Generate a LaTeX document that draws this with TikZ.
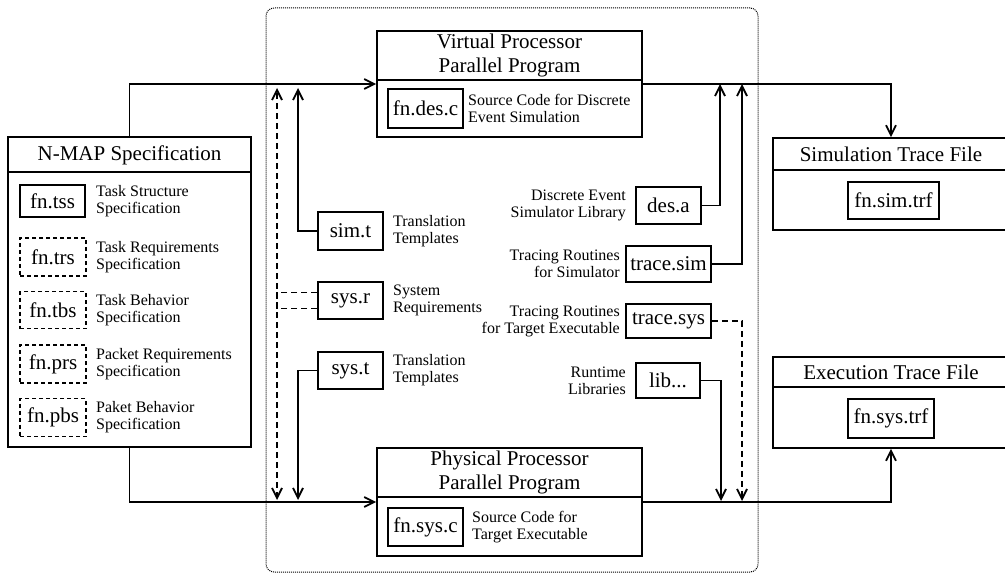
\documentclass[tikz,border=0pt]{standalone}
\usepackage{fontspec}
\setmainfont{Liberation Serif}
\usetikzlibrary{arrows.meta}
\begin{document}
\begin{tikzpicture}[x=1pt,y=-1pt,
  ttl/.style={font=\fontsize{21}{24}\selectfont, align=center, inner sep=0},
  lbl/.style={font=\fontsize{16}{17}\selectfont, inner sep=0},
  bx/.style n args={2}{draw, line width=1.6pt, inner sep=0, minimum width=#1pt, minimum height=#2pt, font=\fontsize{21}{24}\selectfont},
  dbx/.style n args={2}{bx={#1}{#2}, line width=1.4pt, dash pattern=on 4pt off 3pt},
  conn/.style={line width=1.8pt},
  dconn/.style={line width=1.8pt, dash pattern=on 6pt off 4pt},
  arr/.style={-{Straight Barb[length=10pt,width=10pt]}},
  rule/.style={line width=1.6pt}
]
\useasboundingbox (0,0) rectangle (1005,575);
\fill[white] (0,0) rectangle (1005,575);

% dotted frame
\node[draw, dash pattern=on 1pt off 1pt, line width=1pt, rounded corners=8pt, minimum width=492pt, minimum height=564pt, inner sep=0] (frame) at (512,290) {};

% N-MAP specification
\node[bx={243}{310}] (nmap) at (129.5,292) {};
\draw[rule] (8,172) -- (251,172);
\node[ttl] (nmapt) at (129.5,155) {N-MAP Specification};
\node[bx={65}{32}] (tss) at (52.5,201) {fn.tss};
\node[dbx={66}{38}] (trs) at (53,257) {fn.trs};
\node[dbx={66}{37}] (tbs) at (53,310) {fn.tbs};
\node[dbx={66}{38}] (prs) at (53,364) {fn.prs};
\node[dbx={66}{38}] (pbs) at (53,417.5) {fn.pbs};
\node[lbl, anchor=west, align=left] (tssl) at (96,201) {Task Structure\\Specification};
\node[lbl, anchor=west, align=left] (trsl) at (96,257) {Task Requirements\\Specification};
\node[lbl, anchor=west, align=left] (tbsl) at (96,310) {Task Behavior\\Specification};
\node[lbl, anchor=west, align=left] (prsl) at (96,364) {Packet Requirements\\Specification};
\node[lbl, anchor=west, align=left] (pbsl) at (96,417.5) {Paket Behavior\\Specification};

% Virtual processor
\node[bx={265}{106}] (virt) at (509.5,84) {};
\draw[rule] (377,80) -- (642,80);
\node[ttl] (virtt) at (509.5,55) {Virtual Processor\\Parallel Program};
\node[bx={75}{39}] (desc) at (425.5,108.5) {fn.des.c};
\node[lbl, anchor=west, align=left] (descl) at (468,108.5) {Source Code for Discrete\\Event Simulation};

% Physical processor
\node[bx={265}{108}] (phys) at (509.5,502) {};
\draw[rule] (377,497) -- (642,497);
\node[ttl] (physt) at (509.5,472) {Physical Processor\\Parallel Program};
\node[bx={75}{38}] (sysc) at (425.5,527) {fn.sys.c};
\node[lbl, anchor=west, align=left] (syscl) at (472,527) {Source Code for\\Target Executable};

% templates / requirements
\node[bx={65}{38}] (simt) at (350.5,231) {sim.t};
\node[bx={65}{37}] (sysr) at (350.5,300.5) {sys.r};
\node[bx={65}{37}] (syst) at (350.5,370.5) {sys.t};
\node[lbl, anchor=west, align=left] (simtl) at (393,231) {Translation\\Templates};
\node[lbl, anchor=west, align=left] (sysrl) at (393,300.5) {System\\Requirements};
\node[lbl, anchor=west, align=left] (systl) at (393,370.5) {Translation\\Templates};

% libraries
\node[bx={65}{37}] (desa) at (668.5,205.5) {des.a};
\node[bx={85}{36}] (trsim) at (668.5,264) {trace.sim};
\node[bx={85}{34}] (trsys) at (668.5,321) {trace.sys};
\node[bx={64}{35}] (lib) at (668,380.5) {lib...};
\node[lbl, anchor=east, align=right] (desal) at (626,205.5) {Discrete Event\\Simulator Library};
\node[lbl, anchor=east, align=right] (trsiml) at (620,264) {Tracing Routines\\for Simulator};
\node[lbl, anchor=east, align=right] (trsysl) at (620,321) {Tracing Routines\\for Target Executable};
\node[lbl, anchor=east, align=right] (libl) at (626,380.5) {Runtime\\Libraries};

% trace files
\node[bx={236}{92}] (simtrf) at (891,184) {};
\draw[rule] (773,170) -- (1009,170);
\node[ttl] (simtrft) at (891,154) {Simulation Trace File};
\node[bx={91}{37}] (simtrfi) at (893.5,200.5) {fn.sim.trf};
\node[bx={236}{91}] (exectrf) at (891,402.5) {};
\draw[rule] (773,387) -- (1009,387);
\node[ttl] (exectrft) at (891,372) {Execution Trace File};
\node[bx={86}{39}] (exectrfi) at (891,418.5) {fn.sys.trf};

% coordinates on the main lines
\coordinate (vA) at (720,84);
\coordinate (vB) at (742,84);
\coordinate (pA) at (721,501);
\coordinate (pB) at (742,501);
\coordinate (lT1) at (277,88);
\coordinate (lT2) at (298,88);
\coordinate (lB1) at (277,500);
\coordinate (lB2) at (298,500);

% main flow
\draw[conn, arr] (nmap.north) |- (virt.west);
\draw[conn, arr] (nmap.south) |- (phys.west);
\draw[conn, arr] (virt.east) -| (simtrf.north);
\draw[conn, arr] (phys.east) -| (exectrf.south);

% libraries into programs
\draw[conn, arr] (desa.east) -| (vA);
\draw[conn, arr] (trsim.east) -| (vB);
\draw[conn, arr] (lib.east) -| (pA);
\draw[dconn, arr] (trsys.east) -| (pB);

% templates into programs
\draw[conn, arr] (simt.west) -| (lT2);
\draw[conn, arr] (syst.west) -| (lB2);
\draw[dconn, arr] ([yshift=-8pt]sysr.west) -| (lT1);
\draw[dconn, arr] ([yshift=8pt]sysr.west) -| (lB1);
\end{tikzpicture}
\end{document}
